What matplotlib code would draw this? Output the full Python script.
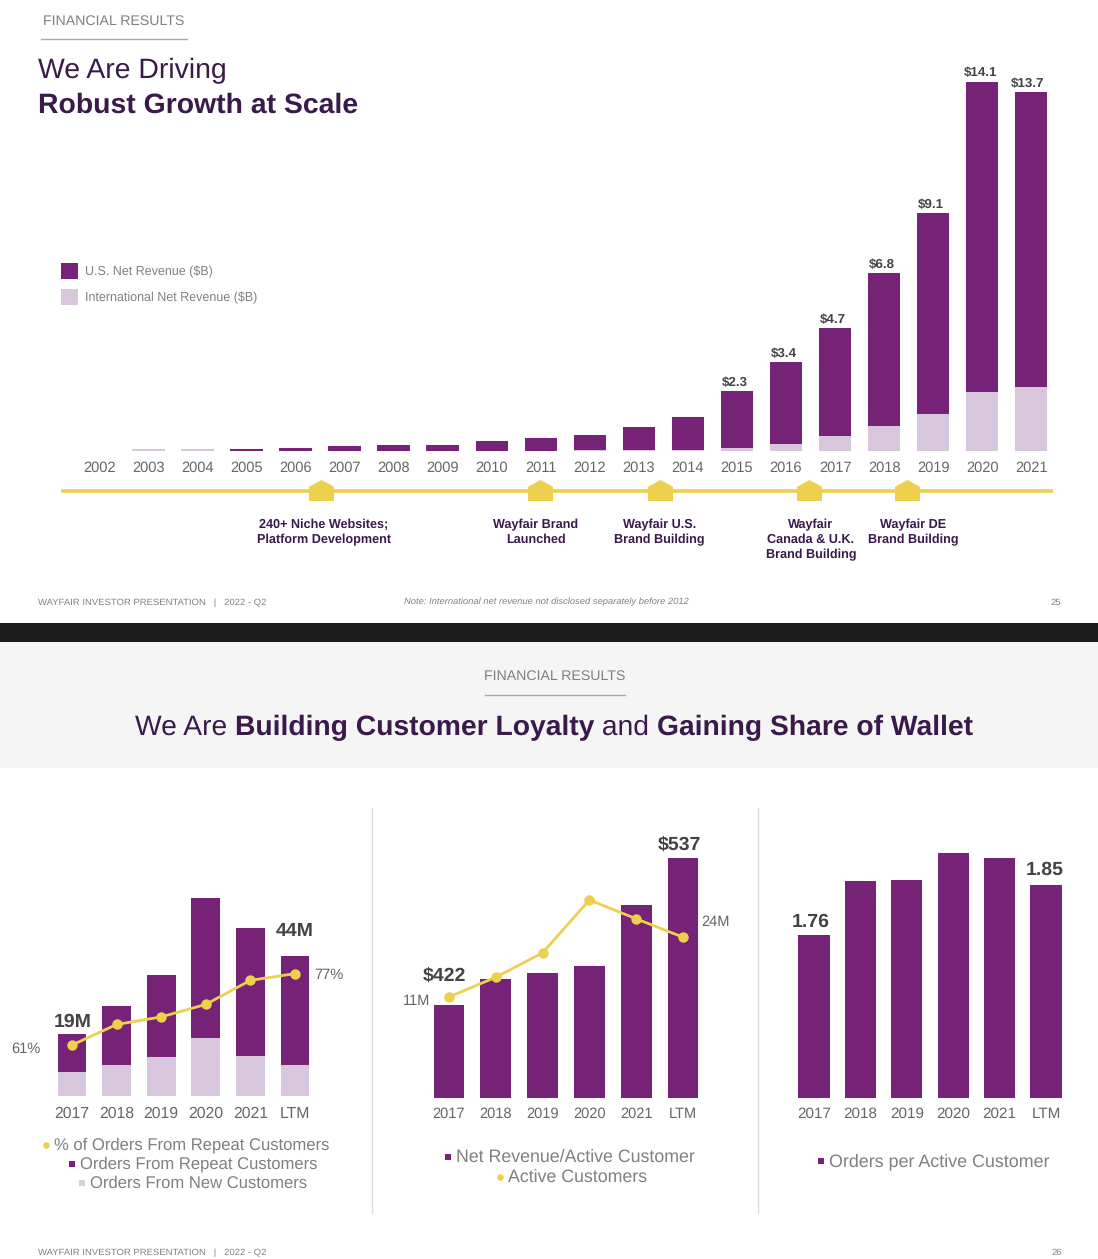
import matplotlib
matplotlib.use("Agg")
import matplotlib.pyplot as plt
from matplotlib.patches import Rectangle
from matplotlib.path import Path

plt.rcParams['font.family'] = ['Liberation Sans', 'DejaVu Sans']
plt.rcParams['text.hinting'] = 'no_hinting'

# ---------- data ----------
years_top = [str(y) for y in range(2002, 2022)]
us_rev = [0, 0, 0, 0.07, 0.12, 0.2, 0.24, 0.24, 0.38, 0.5, 0.58, 0.9, 1.28, 2.2, 3.15, 4.13, 5.85, 7.7, 11.85, 11.25]
intl_rev = [0, 0.06, 0.06, 0, 0, 0, 0, 0, 0, 0, 0.02, 0.02, 0.02, 0.1, 0.25, 0.57, 0.95, 1.4, 2.25, 2.45]
total_labels = {13: "$2.3", 14: "$3.4", 15: "$4.7", 16: "$6.8", 17: "$9.1", 18: "$14.1", 19: "$13.7"}

periods = ["2017", "2018", "2019", "2020", "2021", "LTM"]
orders_new = [7.5, 9.7, 12.2, 18.1, 12.6, 9.8]
orders_repeat = [12.0, 18.4, 25.6, 43.8, 39.9, 34.0]
pct_repeat = [61, 65.6, 67.3, 70.1, 75.5, 77]

rev_per_cust = [422, 442, 447, 452, 500, 537]
active_cust = [11, 15.3, 20.6, 32.1, 28, 24]

orders_per_cust = [1.76, 1.857, 1.859, 1.907, 1.898, 1.85]

milestones = ["240+ Niche Websites;\nPlatform Development", "Wayfair Brand\nLaunched",
              "Wayfair U.S.\nBrand Building", "Wayfair\nCanada & U.K.\nBrand Building",
              "Wayfair DE\nBrand Building"]

PURPLE = "#752277"
LAV = "#d8c6dd"
YEL = "#eed04f"
DARK = "#3a1a4a"
GREY = "#808080"
TICK = "#666666"
W, H = 1098, 1259

fig = plt.figure(figsize=(W / 100, H / 100), dpi=100, facecolor="white")

# pixel-space background layer
bg = fig.add_axes([0, 0, 1, 1], zorder=0)
bg.set_xlim(0, W); bg.set_ylim(H, 0); bg.axis("off")
bg.add_patch(Rectangle((0, 623), W, 19, color="#1a1a1a", lw=0))
bg.add_patch(Rectangle((0, 642), W, 126, color="#f5f5f5", lw=0))


def ax_px(l, t, r, b, first, step, ymin, ppu):
    """Axes on a pixel box; category i is centred at first+i*step, ppu pixels per y unit."""
    ax = fig.add_axes([l / W, 1 - b / H, (r - l) / W, (b - t) / H], zorder=2)
    ax.patch.set_alpha(0)
    ax.set_xlim((l - first) / step, (r - first) / step)
    ax.set_ylim(ymin, ymin + (b - t) / ppu)
    for s in ax.spines.values():
        s.set_visible(False)
    ax.set_yticks([])
    ax.tick_params(axis="x", length=0)
    return ax


def twin(ax, y0_val, y0_px, b, t, ppu):
    tw = ax.twinx()
    tw.patch.set_alpha(0)
    for s in tw.spines.values():
        s.set_visible(False)
    tw.set_yticks([])
    lo = y0_val - (b - y0_px) / ppu
    tw.set_ylim(lo, lo + (b - t) / ppu)
    return tw


def label(ax, x, y, txt, dx, dy, size, color="#444444", weight="normal", ha="center", va="center"):
    ax.annotate(txt, (x, y), xytext=(dx, dy), textcoords="offset pixels", ha=ha, va=va,
                fontsize=size, color=color, fontweight=weight, annotation_clip=False)


# ---------- top chart ----------
a1 = ax_px(61, 50, 1053, 451, 99.3, 49.05, 0, 26.2)
xt = range(len(years_top))
a1.bar(xt, intl_rev, width=0.66, color=LAV)
a1.bar(xt, us_rev, width=0.66, bottom=intl_rev, color=PURPLE)
a1.set_xticks(list(xt), years_top, fontsize=10.5, color=TICK)
a1.tick_params(axis="x", pad=7)
for pos, t in total_labels.items():
    total = us_rev[pos] + intl_rev[pos]
    label(a1, pos, total, t, -4 if pos == 19 else -2, 9 if pos == 18 else 8, 9.6, weight="bold")

# ---------- bottom-left chart ----------
a2 = ax_px(10, 890, 360, 1096, 72, 44.6, 0, 3.2)
x6 = range(6)
a2.bar(x6, orders_new, width=0.65, color=LAV)
a2.bar(x6, orders_repeat, width=0.65, bottom=orders_new, color=PURPLE)
a2.set_xticks(list(x6), periods, fontsize=11.3, color=TICK)
a2.tick_params(axis="x", pad=7.3)
t2 = twin(a2, 61, 1045, 1096, 890, 4.46)
t2.plot(x6, pct_repeat, color=YEL, lw=2, marker="o", ms=6.5)
label(a2, 0, orders_new[0] + orders_repeat[0], "19M", 1, 12, 14, weight="bold")
label(a2, 5, orders_new[5] + orders_repeat[5], "44M", 0, 25, 14, weight="bold")
label(t2, 0, pct_repeat[0], "61%", -46, -4, 10.5, color="#666666")
label(t2, 5, pct_repeat[5], "77%", 34, -1, 10.5, color="#666666")

# ---------- bottom-middle chart ----------
a3 = ax_px(400, 815, 750, 1098, 449, 46.8, 349, 1.278)
a3.bar(x6, rev_per_cust, width=0.66, color=PURPLE)
a3.set_xticks(list(x6), periods, fontsize=10.5, color=TICK)
a3.tick_params(axis="x", pad=6.3)
t3 = twin(a3, 11, 997, 1098, 815, 4.6)
t3.plot(x6, active_cust, color=YEL, lw=2, marker="o", ms=6.5)
label(a3, 0, rev_per_cust[0], "$422", -5, 29, 14, weight="bold")
label(a3, 5, rev_per_cust[5], "$537", -4, 13, 14, weight="bold")
label(t3, 0, active_cust[0], "11M", -32, -4, 10.5, color="#666666")
label(t3, 5, active_cust[5], "24M", 33, 15, 10.5, color="#666666")

# ---------- bottom-right chart ----------
a4 = ax_px(770, 815, 1090, 1098, 814, 46.4, 1.466, 555)
a4.bar(x6, orders_per_cust, width=0.67, color=PURPLE)
a4.set_xticks(list(x6), periods, fontsize=11, color=TICK)
a4.tick_params(axis="x", pad=6.3)
label(a4, 0, orders_per_cust[0], "1.76", -3, 13, 14, weight="bold")
label(a4, 5, orders_per_cust[5], "1.85", -1, 15, 14, weight="bold")

# ---------- overlay: titles, legends, timeline ----------
ov = fig.add_axes([0, 0, 1, 1], zorder=3)
ov.patch.set_alpha(0)
ov.set_xlim(0, W); ov.set_ylim(H, 0); ov.axis("off")


def T(x, y, s, size, color=GREY, weight="normal", ha="left", va="center", style="normal", **kw):
    return ov.text(x, y + size * 0.12, s, fontsize=size, color=color, fontweight=weight, ha=ha, va=va,
                   fontstyle=style, clip_on=False, **kw)


# Top slide header
T(43, 20, "FINANCIAL RESULTS", 10.15)
ov.plot([41, 187], [39, 39], color="#aaaaaa", lw=1)
T(38, 68, "We Are Driving", 20.4, color=DARK)
T(38, 103, "Robust Growth at Scale", 20.4, color=DARK, weight="bold")

# Top legend
for y, c, s in [(271, PURPLE, "U.S. Net Revenue ($B)"), (297, LAV, "International Net Revenue ($B)")]:
    ov.add_patch(Rectangle((61, y - 8), 17, 16, color=c, lw=0))
    T(85, y, s, 9.0)

# Timeline
ov.plot([61, 1053], [491, 491], color=YEL, lw=2.6, solid_capstyle="butt")
house = Path([(-1, -0.84), (-1, 0.3), (0, 0.84), (1, 0.3), (1, -0.84), (-1, -0.84)])
ms_x = [321, 540, 660, 809, 907]
ov.scatter(ms_x, [489.5] * 5, marker=house, s=324, color=YEL, lw=0, zorder=4)
lab_x = [324, 536, 659.5, 811, 913]
for x, s in zip(lab_x, milestones):
    T(x, 517.5, s, 9.1, color=DARK, weight="bold", ha="center", va="top", linespacing=1.32)

# Footers
T(38, 601.5, "WAYFAIR INVESTOR PRESENTATION   |   2022 - Q2", 6.82)
T(546, 601, "Note: International net revenue not disclosed separately before 2012", 6.78, ha="center", style="italic")
T(1056, 601.5, "25", 6.82, ha="center")
T(38, 1252, "WAYFAIR INVESTOR PRESENTATION   |   2022 - Q2", 6.82)
T(1057, 1252, "26", 6.82, ha="center")

# Second slide header
T(555, 675, "FINANCIAL RESULTS", 10.15, ha="center")
ov.plot([485, 625], [695, 695], color="#aaaaaa", lw=1)
t = T(135, 725, "We Are ", 20.3, color=DARK)
for s, w in [("Building Customer Loyalty", "bold"), (" and ", "normal"), ("Gaining Share of Wallet", "bold")]:
    t = ov.annotate(s, xy=(1, 0.5), xycoords=t, ha="left", va="center", fontsize=20.3,
                    color=DARK, fontweight=w)

# Separators
ov.plot([372, 372], [808, 1213], color="#dddddd", lw=1)
ov.plot([758, 758], [808, 1213], color="#dddddd", lw=1)

# Bottom legends: (marker x, marker y, colour, marker, text size, text)
LEG = [
    (46, 1145, YEL, "o", 12.0, "% of Orders From Repeat Customers"),
    (72, 1164, PURPLE, "s", 12.0, "Orders From Repeat Customers"),
    (82, 1183, "#d3d3d3", "s", 12.0, "Orders From New Customers"),
    (448, 1157, PURPLE, "s", 12.75, "Net Revenue/Active Customer"),
    (500, 1177, YEL, "o", 12.75, "Active Customers"),
    (821, 1161, PURPLE, "s", 12.85, "Orders per Active Customer"),
]
for mx, my, c, m, fs, s in LEG:
    ov.scatter([mx], [my], marker=m, s=22, color=c, lw=0)
    T(mx + 8, my - 1, s, fs)

fig.savefig("out.png", dpi=100)
